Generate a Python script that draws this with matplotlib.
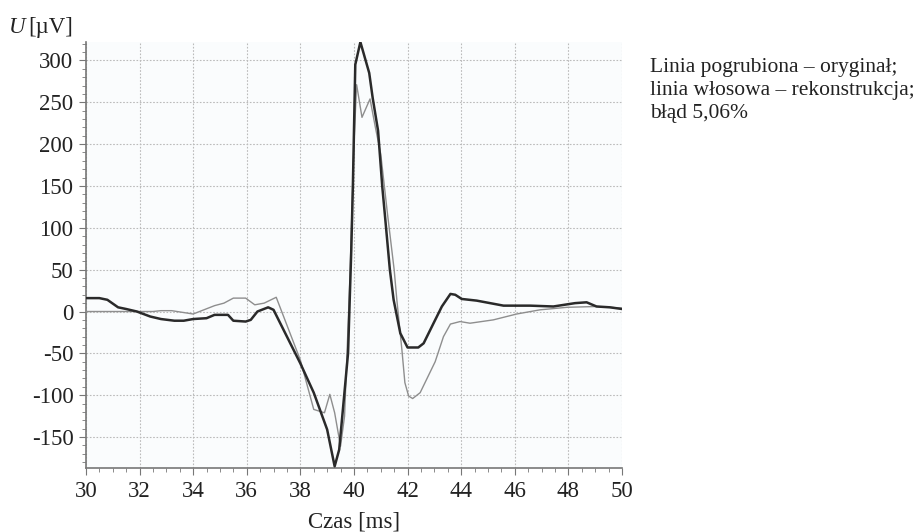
import matplotlib
matplotlib.use("Agg")
import matplotlib.pyplot as plt
from matplotlib.ticker import MultipleLocator

# Original signal (thick line)
orig_t = [30.0, 30.5, 30.8, 31.2, 31.5, 31.9, 32.4, 32.8, 33.3, 33.65, 34.0, 34.5, 34.8,
          35.3, 35.5, 35.96, 36.15, 36.4, 36.8, 37.0, 38.0, 38.5, 39.0, 39.28, 39.45,
          39.78, 39.9, 39.96, 40.05, 40.24, 40.57, 40.7, 40.9, 41.06, 41.15, 41.34,
          41.48, 41.73, 42.0, 42.4, 42.6, 42.97, 43.28, 43.6, 43.78, 44.02, 44.58,
          45.08, 45.58, 46.57, 47.44, 48.25, 48.68, 49.05, 49.55, 50.0]
orig_u = [16, 16, 14, 5, 3, 0, -6, -9, -11, -11, -9, -8, -4,
          -4, -11, -12, -10, 0, 5, 2, -62, -97, -141, -185, -165,
          -50, 73, 150, 295, 322, 285, 255, 216, 148, 117, 50,
          14, -26, -43, -43, -38, -14, 6, 21, 20, 15, 13,
          10, 7, 7, 6, 10, 11, 6, 5, 3]

# Reconstruction (hairline)
rec_t = [30.0, 32.5, 32.8, 33.2, 34.0, 34.4, 34.8, 35.15, 35.5, 35.96, 36.3, 36.65,
         37.1, 38.0, 38.5, 38.9, 39.1, 39.28, 39.5, 39.65, 39.85, 40.0, 40.1, 40.3,
         40.6, 40.8, 41.0, 41.25, 41.5, 41.6, 41.79, 41.9, 42.04, 42.19, 42.47,
         43.03, 43.34, 43.6, 43.96, 44.33, 45.2, 46.07, 46.94, 47.94, 49.05, 50.0]
rec_u = [0, 0, 1, 1, -3, 2, 7, 10, 16, 16, 8, 10,
         17, -58, -117, -121, -99, -121, -161, -125, 40, 200, 271, 232,
         254, 220, 188, 117, 50, 14, -46, -85, -101, -104, -97,
         -60, -30, -15, -12, -14, -10, -3, 2, 5, 6, 4]

x_ticks = [30, 32, 34, 36, 38, 40, 42, 44, 46, 48, 50]
y_ticks = [-150, -100, -50, 0, 50, 100, 150, 200, 250, 300]

plt.rcParams['font.family'] = ['Liberation Serif', 'DejaVu Serif']

fig = plt.figure(figsize=(9.14, 5.32), dpi=100)
ax = fig.add_axes([0.094, 0.1203, 0.5865, 0.8007])
ax.set_facecolor('#fafcfd')

ax.plot(rec_t, rec_u, color='#8e8e8e', lw=1.0, zorder=3)
ax.plot(orig_t, orig_u, color='#2a2a2a', lw=1.8, zorder=4)

ax.set_xlim(30, 50)
ax.set_ylim(-187, 322)
ax.set_xticks(x_ticks)
ax.set_yticks(y_ticks)
ax.set_yticklabels([str(v) for v in y_ticks])
ax.xaxis.set_minor_locator(MultipleLocator(0.5))
ax.yaxis.set_minor_locator(MultipleLocator(10))

ax.grid(True, which='major', color='#bbbbbb', linestyle=(0, (1.5, 1.5)), lw=0.8)
for s in ['top', 'right']:
    ax.spines[s].set_visible(False)
for s in ['left', 'bottom']:
    ax.spines[s].set_color('#777777')
    ax.spines[s].set_linewidth(1.2)

ax.tick_params(axis='both', which='major', length=5, color='#777777',
               labelsize=16.5, labelcolor='#222222', pad=4)
ax.tick_params(axis='both', which='minor', length=3, color='#777777')

ax.set_xlabel('Czas [ms]', fontsize=16.5, color='#222222', labelpad=7)

fig.text(0.010, 0.938, 'U', fontsize=16.5, fontstyle='italic', color='#222222',
         va='baseline', ha='left')
fig.text(0.031, 0.938, '[µV]', fontsize=16.5, color='#222222',
         va='baseline', ha='left')

fig.text(0.711, 0.891,
         'Linia pogrubiona – oryginał;\nlinia włosowa – rekonstrukcja;\nbłąd 5,06%',
         fontsize=15.5, color='#222222', va='top', ha='left',
         linespacing=1.28)

fig.savefig('out.png', dpi=100)
